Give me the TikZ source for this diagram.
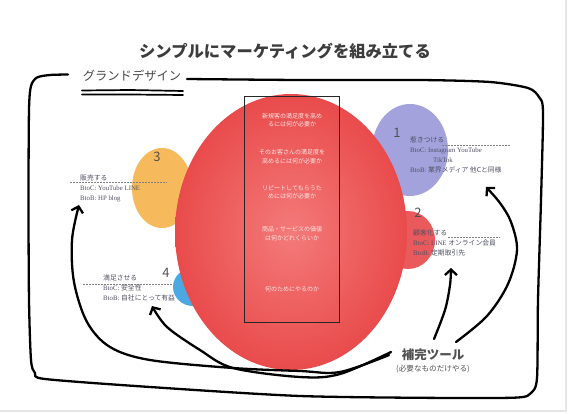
\documentclass[tikz,border=0pt]{standalone}
\usepackage{fontspec}
\setmainfont{Liberation Serif}
\newfontfamily\jp{Noto Sans CJK JP}
\usetikzlibrary{arrows.meta}
\definecolor{labelc}{HTML}{505064}
\definecolor{numc}{HTML}{505050}
\definecolor{titlec}{HTML}{3C3C3C}
\definecolor{redin}{HTML}{F47A7A}
\definecolor{redout}{HTML}{E94B4B}
\definecolor{purplec}{HTML}{A3A2DC}
\definecolor{red2c}{HTML}{EA5A5C}
\definecolor{orangec}{HTML}{F6BA5C}
\definecolor{bluec}{HTML}{4CA8E2}
\definecolor{ctrc}{HTML}{FCE6E6}
\tikzset{
  hand/.style={line width=2.3pt, line cap=round, line join=round},
  arr/.style={hand, -{Straight Barb[length=5.5pt,width=12pt,line width=2.3pt]}},
  lbl/.style={font=\fontsize{6.8}{10}\selectfont, text=labelc, align=left, anchor=west, inner sep=0pt},
  ctr/.style={font=\jp\fontsize{6}{8.5}\selectfont, text=ctrc, align=center, inner sep=0pt},
  num/.style={font=\jp\fontsize{13}{13}\selectfont, text=numc, inner sep=0pt},
  dashln/.style={gray, line width=0.5pt, dash pattern=on 1.5pt off 1.5pt},
}
\begin{document}
\begin{tikzpicture}[x=1pt,y=-1pt]
\useasboundingbox (0,0) rectangle (573,414);
\fill[white] (0,0) rectangle (573,414);
\draw[black!10, line width=1.5pt] (566,0) -- (566,411) -- (0,411);

% title
\node[font=\jp\bfseries\fontsize{16.3}{18}\selectfont, text=titlec, inner sep=0pt] (title) at (285,51) {シンプルにマーケティングを組み立てる};

% grand design label
\node[font=\jp\fontsize{12.3}{13}\selectfont, text=black!72, inner sep=0pt] (gd) at (132,76) {グランドデザイン};
\draw[line width=1.7pt, line cap=round] (82,90.5) -- (130,90) -- (183,91);
\draw[line width=1.7pt, line cap=round] (82,94.5) -- (130,94.5) -- (183,95);

% frame
\draw[hand] plot[smooth, tension=0.45] coordinates {(68,74.5) (50,75) (37,77.5) (31,86) (29,110) (28.5,200) (29,300) (31,360) (35,373) (45,379) (150,387) (300,396) (450,398) (518,397.5) (531,393) (537,378) (538,300) (541,200) (543,112) (539,97) (528,88) (490,82) (420,80) (300,80) (187,79)};

% small circles (behind)
\fill[purplec] (410,150) ellipse [x radius=38pt, y radius=46pt];
\fill[red2c] (408,240) ellipse [x radius=27pt, y radius=29pt];
\fill[orangec] (162,188) ellipse [x radius=30pt, y radius=40pt];
\fill[bluec] (193,287) ellipse [x radius=20pt, y radius=19pt];

% big circle
\shade[inner color=redin, outer color=redout] (291,232) ellipse [x radius=116pt, y radius=138pt];
\node[draw=black!85, line width=1.1pt, minimum width=95pt, minimum height=226pt, inner sep=0pt] (col) at (292,209.5) {};

% center texts
\node[ctr] (c1) at (292,120) {新規客の満足度を高め\\るには何が必要か};
\node[ctr] (c2) at (292,156.5) {そのお客さんの満足度を\\高めるには何が必要か};
\node[ctr] (c3) at (292,192.5) {リピートしてもらうた\\めには何が必要か};
\node[ctr] (c4) at (292,233.5) {商品・サービスの価値\\は何かどれくらいか};
\node[ctr] (c5) at (292,289) {何のためにやるのか};

% numbers
\node[num] (n1) at (397,133) {1};
\node[num] (n2) at (418,213) {2};
\node[num] (n3) at (157,157) {3};
\node[num] (n4) at (166,273) {4};

% labels
\draw[dashln] (442,145.5) -- (510,145.5);
\node[lbl] (t1) at (410,155) {{\jp 惹きつける}\\BtoC: Instagram YouTube\\\hspace*{23pt}TikTok\\BtoB: {\jp 業界メディア 他Cと同様}};
\draw[dashln] (448,237.5) -- (500,237.5);
\node[lbl] (t2) at (413,243) {{\jp 顧客化する}\\BtoC: LINE {\jp オンライン会員}\\BtoB: {\jp 定期取引先}};
\draw[dashln] (70,182.5) -- (167,182.5);
\node[lbl] (t3) at (80,188) {{\jp 販売する}\\BtoC: YouTube LINE\\BtoB: HP blog};
\draw[dashln] (83,284.5) -- (172,284.5);
\node[lbl] (t4) at (103,287.5) {{\jp 満足させる}\\BtoC: {\jp 安全性}\\BtoB: {\jp 自社にとって有益}};

% tool label
\node[font=\jp\bfseries\fontsize{12.5}{13}\selectfont, text=black!68, inner sep=0pt] (tool) at (433,355) {補完ツール};
\node[font=\jp\fontsize{7.6}{8}\selectfont, text=black!68, inner sep=0pt, anchor=north] (toolsub) at (433,365) {(必要なものだけやる)};

% arrow anchors
\coordinate (s1) at (456,342);
\coordinate (s2) at (434,339);
\coordinate (s3) at (389,355);
\coordinate (s4) at (391,352);
\coordinate (e1) at (486,187);
\coordinate (e2) at (451,268);
\coordinate (e3) at (79,205);
\coordinate (e4) at (152,306);

\draw[arr] plot[smooth, tension=0.55] coordinates {(s1) (487,316) (508,284) (517,250) (511,222) (500,203) (e1)};
\draw[arr] plot[smooth, tension=0.55] coordinates {(s2) (445,310) (450,285) (e2)};
\draw[arr] plot[smooth, tension=0.55] coordinates {(s3) (340,372) (300,371) (233,368) (150,360) (110,347) (87,322) (74,282) (72,240) (e3)};
\draw[arr] plot[smooth, tension=0.55] coordinates {(s4) (340,374) (300,377) (233,368) (200,350) (167,327) (e4)};
\end{tikzpicture}
\end{document}
